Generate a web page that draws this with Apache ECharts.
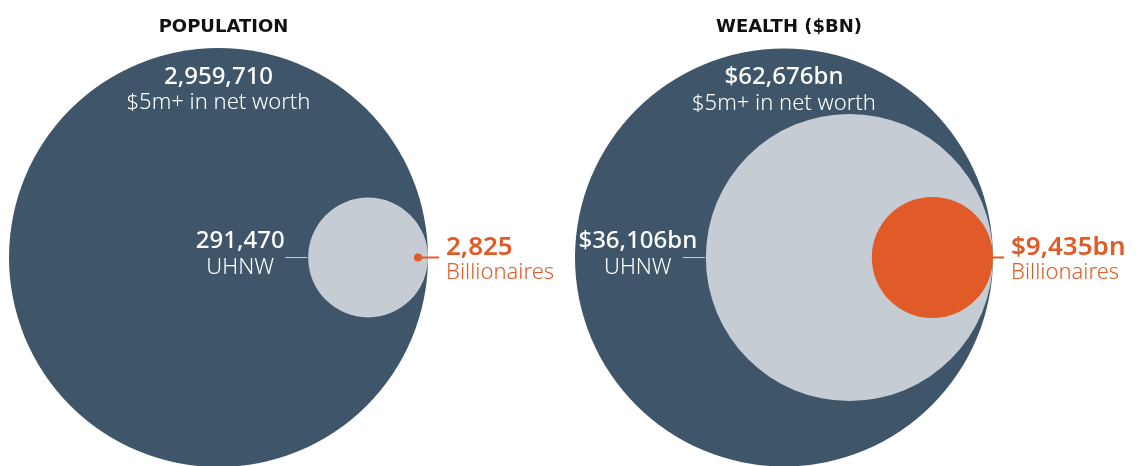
<!DOCTYPE html>
<html>
<head>
<meta charset="utf-8">
<script src="https://cdn.jsdelivr.net/npm/echarts@6/dist/echarts.min.js"></script>
<style>
  html, body { margin: 0; padding: 0; background: #fff; }
  #chart { width: 1138px; height: 466px; }
</style>
</head>
<body>
<div id="chart"></div>
<script>
const panelTitles = ['POPULATION', 'WEALTH ($BN)']
const tierNames = ['$5m+ in net worth', 'UHNW', 'Billionaires']
const populationValues = [2959710, 291470, 2825]
const wealthValues = [62676, 36106, 9435]

// circle radius relative to the outer ring, as drawn in the original
const radiusRatio = [
  [1, 0.286, 0.019],
  [1, 0.687, 0.29]
]

const colors = ['#3f5569', '#c5ccd4', '#e05b27']
const FONT = '"Noto Sans", sans-serif'

function fmtNum(v) {
  return v.toLocaleString('en-US')
}
function fmtLabel(panel, v) {
  return panel === 1 ? '$' + fmtNum(v) + 'bn' : fmtNum(v)
}

function txt(text, x, y, fill, font, align) {
  return {
    type: 'text',
    style: {
      text: text, x: x, y: y, fill: fill, font: font,
      align: align, verticalAlign: 'middle',
      textAlign: align, textVerticalAlign: 'middle'
    }
  }
}

const chart = echarts.init(document.getElementById('chart'))

function renderItem(params, api) {
  const panel = params.seriesIndex
  const tier = api.value(1)
  const value = api.value(0)
  const c = api.coord([0, 0])
  const R = api.size([1, 1])[0]
  const r = R * radiusRatio[panel][tier]
  const rightEdge = c[0] + R
  const children = []

  if (tier === 0) {
    const top = c[1] - R
    children.push({ type: 'circle', shape: { cx: c[0], cy: c[1], r: R }, style: { fill: colors[0] } })
    children.push(txt(fmtLabel(panel, value), c[0], top + 29, '#fff', '500 24px ' + FONT, 'center'))
    children.push(txt(tierNames[0], c[0], top + 55, '#fff', '300 22px ' + FONT, 'center'))
  } else if (tier === 1) {
    const cx = rightEdge - r
    const leftEdge = cx - r
    children.push({ type: 'circle', shape: { cx: cx, cy: c[1], r: r }, style: { fill: colors[1] } })
    children.push({ type: 'line', shape: { x1: leftEdge - 23, y1: c[1], x2: leftEdge - 1, y2: c[1] }, style: { stroke: colors[1], lineWidth: 1 } })
    const lx = leftEdge - 68
    children.push(txt(fmtLabel(panel, value), lx, c[1] - 16, '#fff', '500 24px ' + FONT, 'center'))
    children.push(txt(tierNames[1], lx, c[1] + 10, '#fff', '300 22px ' + FONT, 'center'))
  } else {
    const cx = rightEdge - Math.max(r, 10)
    children.push({ type: 'line', shape: { x1: cx, y1: c[1], x2: rightEdge + 11, y2: c[1] }, style: { stroke: colors[2], lineWidth: 2 } })
    children.push({ type: 'circle', shape: { cx: cx, cy: c[1], r: r }, style: { fill: colors[2] } })
    children.push(txt(fmtLabel(panel, value), rightEdge + 18, c[1] - 10, colors[2], '600 26px ' + FONT, 'left'))
    children.push(txt(tierNames[2], rightEdge + 18, c[1] + 15, colors[2], '300 22px ' + FONT, 'left'))
  }
  return { type: 'group', children: children }
}

const grids = [
  { left: 9, top: 49, width: 419, height: 419 },
  { left: 575, top: 49, width: 418, height: 418 }
]

const option = {
  animation: false,
  title: panelTitles.map((t, i) => ({
    text: t,
    left: grids[i].left + grids[i].width / 2,
    top: 13,
    textAlign: 'center',
    textStyle: { fontFamily: '"DejaVu Sans", sans-serif', fontSize: 18, fontWeight: 'bold', color: '#111' }
  })),
  grid: grids,
  xAxis: grids.map((g, i) => ({ type: 'value', gridIndex: i, min: -1, max: 1, show: false })),
  yAxis: grids.map((g, i) => ({ type: 'value', gridIndex: i, min: -1, max: 1, show: false })),
  series: [populationValues, wealthValues].map((vals, i) => ({
    type: 'custom',
    xAxisIndex: i,
    yAxisIndex: i,
    clip: false,
    renderItem: renderItem,
    encode: { x: -1, y: -1 },
    data: vals.map((v, k) => [v, k])
  }))
}

chart.setOption(option)
</script>
</body>
</html>
